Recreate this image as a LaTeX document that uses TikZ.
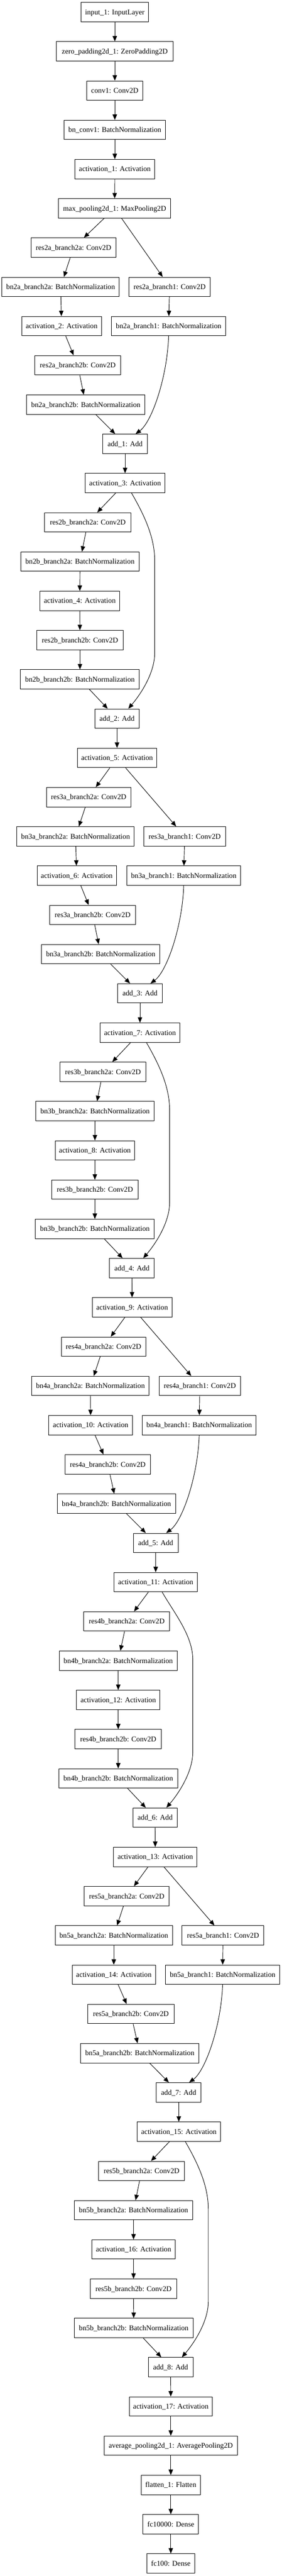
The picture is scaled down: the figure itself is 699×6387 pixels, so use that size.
\documentclass[tikz,border=0pt]{standalone}
\usepackage{fontspec}
\setmainfont{Liberation Serif}
\usetikzlibrary{arrows.meta,calc}
\tikzset{
  lay/.style={draw=black, line width=1.2pt, rectangle, minimum height=48pt, inner sep=0pt,
    text height=16pt, text depth=4pt, font=\fontsize{18.2pt}{20pt}\selectfont, fill=white},
  arr/.style={draw=black, line width=1.2pt, -{Triangle[length=13.5pt,width=11pt]}},
}
\newcommand{\Lnode}[5]{\node[lay,minimum width=#4pt] (#1) at (#2,#3) {#5};}
\newcommand{\projskip}[2]{\draw[arr] (#1.south) .. controls +(-3pt,-100pt) and +(41pt,30pt) .. ([xshift=26pt]#2.north);}
\newcommand{\idskip}[2]{\draw[arr] let \p1=(#2.north), \p2=(#1.south) in
  (\x2+16pt,\y2) .. controls +(30pt,-52pt) and +(0pt,59pt) .. (\x1+93.5pt,\y2-167pt)
  -- (\x1+93.5pt,\y1+138pt) .. controls +(0pt,-50pt) and +(30pt,35pt) .. (\x1+28pt,\y1);}
\begin{document}
\begin{tikzpicture}
\fill[white] (0pt,0pt) rectangle (699pt,-6387pt);
\useasboundingbox (0pt,0pt) rectangle (699pt,-6387pt);
\begin{scope}[x=1pt,y=-97.32pt,yshift=-30pt]
\Lnode{in1}{285}{0}{168}{input\_1: InputLayer}
\Lnode{zp}{285}{1}{290}{zero\_padding2d\_1: ZeroPadding2D}
\Lnode{cv1}{285}{2}{140}{conv1: Conv2D}
\Lnode{bnc}{285}{3}{252}{bn\_conv1: BatchNormalization}
\Lnode{a1}{285}{4}{198}{activation\_1: Activation}
\Lnode{mp}{284.5}{5}{279}{max\_pooling2d\_1: MaxPooling2D}
% block 2a
\Lnode{r2aa}{182.5}{6}{211}{res2a\_branch2a: Conv2D}
\Lnode{b2aa}{150.5}{7}{291}{bn2a\_branch2a: BatchNormalization}
\Lnode{r2a1}{421}{7}{202}{res2a\_branch1: Conv2D}
\Lnode{a2}{153}{8}{198}{activation\_2: Activation}
\Lnode{b2a1}{418.5}{8}{283}{bn2a\_branch1: BatchNormalization}
\Lnode{r2ab}{193}{9}{214}{res2a\_branch2b: Conv2D}
\Lnode{b2ab}{213}{10}{294}{bn2a\_branch2b: BatchNormalization}
\Lnode{add1}{310.5}{11}{111}{add\_1: Add}
\Lnode{a3}{310.5}{12}{197}{activation\_3: Activation}
% block 2b
\Lnode{r2ba}{218}{13}{214}{res2b\_branch2a: Conv2D}
\Lnode{b2ba}{198.5}{14}{293}{bn2b\_branch2a: BatchNormalization}
\Lnode{a4}{198}{15}{198}{activation\_4: Activation}
\Lnode{r2bb}{198.5}{16}{215}{res2b\_branch2b: Conv2D}
\Lnode{b2bb}{198.5}{17}{295}{bn2b\_branch2b: BatchNormalization}
\Lnode{add2}{290.5}{18}{111}{add\_2: Add}
\Lnode{a5}{290.5}{19}{197}{activation\_5: Activation}
% block 3a
\Lnode{r3aa}{220}{20}{210}{res3a\_branch2a: Conv2D}
\Lnode{b3aa}{187.5}{21}{291}{bn3a\_branch2a: BatchNormalization}
\Lnode{r3a1}{458.5}{21}{203}{res3a\_branch1: Conv2D}
\Lnode{a6}{190.5}{22}{197}{activation\_6: Activation}
\Lnode{b3a1}{456}{22}{282}{bn3a\_branch1: BatchNormalization}
\Lnode{r3ab}{230}{23}{214}{res3a\_branch2b: Conv2D}
\Lnode{b3ab}{250}{24}{294}{bn3a\_branch2b: BatchNormalization}
\Lnode{add3}{347.5}{25}{111}{add\_3: Add}
\Lnode{a7}{347.5}{26}{197}{activation\_7: Activation}
% block 3b
\Lnode{r3ba}{255.5}{27}{213}{res3b\_branch2a: Conv2D}
\Lnode{b3ba}{236}{28}{294}{bn3b\_branch2a: BatchNormalization}
\Lnode{a8}{235.5}{29}{197}{activation\_8: Activation}
\Lnode{r3bb}{235.5}{30}{215}{res3b\_branch2b: Conv2D}
\Lnode{b3bb}{235.5}{31}{295}{bn3b\_branch2b: BatchNormalization}
\Lnode{add4}{327.5}{32}{111}{add\_4: Add}
\Lnode{a9}{328}{33}{198}{activation\_9: Activation}
% block 4a
\Lnode{r4aa}{257}{34}{210}{res4a\_branch2a: Conv2D}
\Lnode{b4aa}{224.5}{35}{291}{bn4a\_branch2a: BatchNormalization}
\Lnode{r4a1}{496}{35}{202}{res4a\_branch1: Conv2D}
\Lnode{a10}{225}{36}{208}{activation\_10: Activation}
\Lnode{b4a1}{494.5}{36}{283}{bn4a\_branch1: BatchNormalization}
\Lnode{r4ab}{267.5}{37}{213}{res4a\_branch2b: Conv2D}
\Lnode{b4ab}{289}{38}{294}{bn4a\_branch2b: BatchNormalization}
\Lnode{add5}{386.5}{39}{111}{add\_5: Add}
\Lnode{a11}{386.5}{40}{207}{activation\_11: Activation}
% block 4b
\Lnode{r4ba}{314.5}{41}{213}{res4b\_branch2a: Conv2D}
\Lnode{b4ba}{293.5}{42}{293}{bn4b\_branch2a: BatchNormalization}
\Lnode{a12}{293.5}{43}{207}{activation\_12: Activation}
\Lnode{r4bb}{293.5}{44}{215}{res4b\_branch2b: Conv2D}
\Lnode{b4bb}{293.5}{45}{295}{bn4b\_branch2b: BatchNormalization}
\Lnode{add6}{385}{46}{110}{add\_6: Add}
\Lnode{a13}{385.5}{47}{207}{activation\_13: Activation}
% block 5a
\Lnode{r5aa}{314.5}{48}{211}{res5a\_branch2a: Conv2D}
\Lnode{b5aa}{282.5}{49}{291}{bn5a\_branch2a: BatchNormalization}
\Lnode{r5a1}{553.5}{49}{203}{res5a\_branch1: Conv2D}
\Lnode{a14}{282.5}{50}{207}{activation\_14: Activation}
\Lnode{b5a1}{552.5}{50}{283}{bn5a\_branch1: BatchNormalization}
\Lnode{r5ab}{325}{51}{214}{res5a\_branch2b: Conv2D}
\Lnode{b5ab}{347}{52}{294}{bn5a\_branch2b: BatchNormalization}
\Lnode{add7}{443.5}{53}{111}{add\_7: Add}
\Lnode{a15}{444}{54}{206}{activation\_15: Activation}
% block 5b
\Lnode{r5ba}{351.5}{55}{213}{res5b\_branch2a: Conv2D}
\Lnode{b5ba}{331.5}{56}{293}{bn5b\_branch2a: BatchNormalization}
\Lnode{a16}{331.5}{57}{207}{activation\_16: Activation}
\Lnode{r5bb}{331.5}{58}{215}{res5b\_branch2b: Conv2D}
\Lnode{b5bb}{332}{59}{294}{bn5b\_branch2b: BatchNormalization}
\Lnode{add8}{423.5}{60}{111}{add\_8: Add}
\Lnode{a17}{424}{61}{206}{activation\_17: Activation}
\Lnode{avg}{424}{62}{330}{average\_pooling2d\_1: AveragePooling2D}
\Lnode{fl}{424}{63}{146}{flatten\_1: Flatten}
\Lnode{fca}{424}{64}{138}{fc10000: Dense}
\Lnode{fcb}{424}{65}{118}{fc100: Dense}
\end{scope}
% straight connectors
\foreach \a/\b in {in1/zp, zp/cv1, cv1/bnc, bnc/a1, a1/mp,
  mp/r2aa, mp/r2a1, r2aa/b2aa, b2aa/a2, a2/r2ab, r2ab/b2ab, b2ab/add1, r2a1/b2a1, add1/a3,
  a3/r2ba, r2ba/b2ba, b2ba/a4, a4/r2bb, r2bb/b2bb, b2bb/add2, add2/a5,
  a5/r3aa, a5/r3a1, r3aa/b3aa, b3aa/a6, a6/r3ab, r3ab/b3ab, b3ab/add3, r3a1/b3a1, add3/a7,
  a7/r3ba, r3ba/b3ba, b3ba/a8, a8/r3bb, r3bb/b3bb, b3bb/add4, add4/a9,
  a9/r4aa, a9/r4a1, r4aa/b4aa, b4aa/a10, a10/r4ab, r4ab/b4ab, b4ab/add5, r4a1/b4a1, add5/a11,
  a11/r4ba, r4ba/b4ba, b4ba/a12, a12/r4bb, r4bb/b4bb, b4bb/add6, add6/a13,
  a13/r5aa, a13/r5a1, r5aa/b5aa, b5aa/a14, a14/r5ab, r5ab/b5ab, b5ab/add7, r5a1/b5a1, add7/a15,
  a15/r5ba, r5ba/b5ba, b5ba/a16, a16/r5bb, r5bb/b5bb, b5bb/add8, add8/a17,
  a17/avg, avg/fl, fl/fca, fca/fcb}
  \draw[arr] (\a) -- (\b);
% projection shortcuts
\projskip{b2a1}{add1}
\projskip{b3a1}{add3}
\projskip{b4a1}{add5}
\projskip{b5a1}{add7}
% identity shortcuts
\idskip{a3}{add2}
\idskip{a7}{add4}
\idskip{a11}{add6}
\idskip{a15}{add8}
\end{tikzpicture}
\end{document}
